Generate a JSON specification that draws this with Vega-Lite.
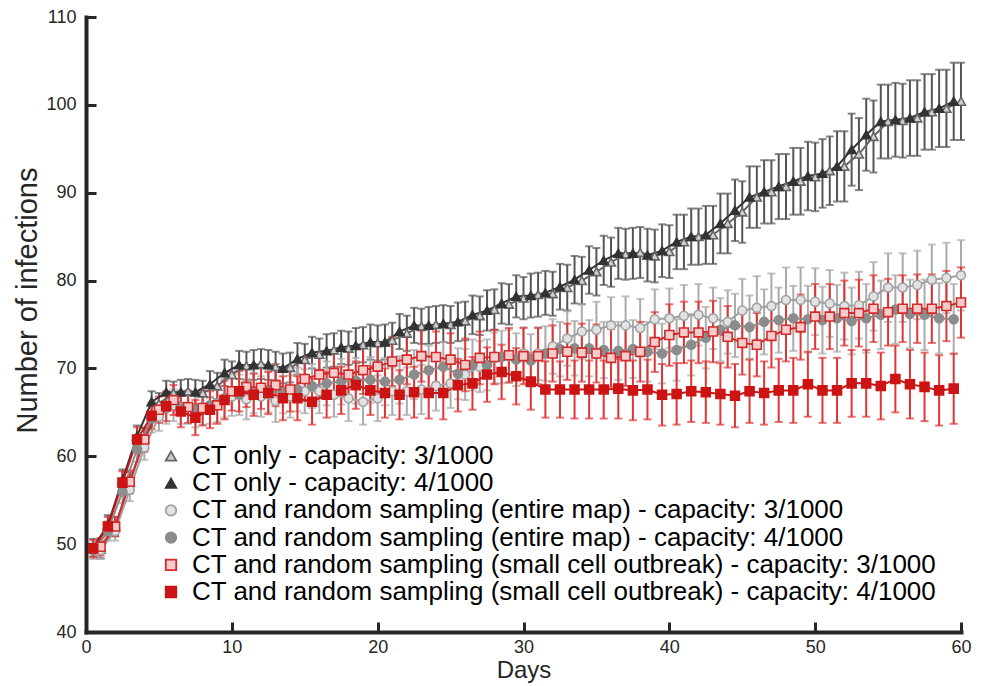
{
"$schema": "https://vega.github.io/schema/vega-lite/v6.json",
"width": 875, "height": 615,
"autosize": {"type": "none"},
"padding": {"left": 86, "top": 17, "right": 20, "bottom": 54},
"background": "white",
"config": {"view": {"stroke": null}, "font": "Liberation Sans",
  "legend": {"orient": "none", "legendX": 72, "legendY": 426, "title": null, "labelFontSize": 26, "labelColor": "#000000", "labelLimit": 1200, "symbolSize": 110, "symbolStrokeWidth": 1.8, "rowPadding": 1.2, "labelOffset": 8}},
"data": {"values": [
{"s":"A","d":1,"v":49.4,"e":1.0},{"s":"A","d":2,"v":52.0,"e":1.1},{"s":"A","d":3,"v":57.0,"e":1.2},{"s":"A","d":4,"v":62.0,"e":1.2},{"s":"A","d":5,"v":66.0,"e":1.2},{"s":"A","d":6,"v":67.2,"e":1.3},{"s":"A","d":7,"v":67.4,"e":1.4},{"s":"A","d":8,"v":67.2,"e":1.4},{"s":"A","d":9,"v":68.0,"e":1.5},{"s":"A","d":10,"v":69.3,"e":1.5},
{"s":"A","d":11,"v":70.3,"e":1.6},{"s":"A","d":12,"v":70.5,"e":1.7},{"s":"A","d":13,"v":70.2,"e":1.7},{"s":"A","d":14,"v":70.1,"e":1.7},{"s":"A","d":15,"v":71.0,"e":1.8},{"s":"A","d":16,"v":71.6,"e":1.8},{"s":"A","d":17,"v":72.1,"e":1.9},{"s":"A","d":18,"v":72.3,"e":1.9},{"s":"A","d":19,"v":72.7,"e":2.0},{"s":"A","d":20,"v":72.9,"e":2.0},
{"s":"A","d":21,"v":73.2,"e":2.0},{"s":"A","d":22,"v":74.0,"e":2.0},{"s":"A","d":23,"v":74.8,"e":2.0},{"s":"A","d":24,"v":75.0,"e":2.1},{"s":"A","d":25,"v":75.0,"e":2.1},{"s":"A","d":26,"v":75.4,"e":2.2},{"s":"A","d":27,"v":76.0,"e":2.2},{"s":"A","d":28,"v":76.7,"e":2.3},{"s":"A","d":29,"v":77.3,"e":2.3},{"s":"A","d":30,"v":78.0,"e":2.4},
{"s":"A","d":31,"v":78.4,"e":2.5},{"s":"A","d":32,"v":78.5,"e":2.5},{"s":"A","d":33,"v":79.2,"e":2.6},{"s":"A","d":34,"v":80.0,"e":2.7},{"s":"A","d":35,"v":81.0,"e":2.7},{"s":"A","d":36,"v":82.1,"e":2.8},{"s":"A","d":37,"v":83.0,"e":2.9},{"s":"A","d":38,"v":83.2,"e":2.9},{"s":"A","d":39,"v":82.8,"e":3.0},{"s":"A","d":40,"v":83.3,"e":3.0},
{"s":"A","d":41,"v":84.4,"e":3.1},{"s":"A","d":42,"v":85.0,"e":3.2},{"s":"A","d":43,"v":85.2,"e":3.3},{"s":"A","d":44,"v":86.5,"e":3.4},{"s":"A","d":45,"v":87.8,"e":3.5},{"s":"A","d":46,"v":89.5,"e":3.5},{"s":"A","d":47,"v":90.1,"e":3.6},{"s":"A","d":48,"v":90.7,"e":3.7},{"s":"A","d":49,"v":91.3,"e":3.8},{"s":"A","d":50,"v":91.8,"e":3.9},
{"s":"A","d":51,"v":92.5,"e":3.9},{"s":"A","d":52,"v":93.0,"e":4.0},{"s":"A","d":53,"v":94.4,"e":4.1},{"s":"A","d":54,"v":96.4,"e":4.1},{"s":"A","d":55,"v":98.1,"e":4.2},{"s":"A","d":56,"v":98.2,"e":4.2},{"s":"A","d":57,"v":98.5,"e":4.3},{"s":"A","d":58,"v":99.2,"e":4.3},{"s":"A","d":59,"v":99.6,"e":4.4},{"s":"A","d":60,"v":100.4,"e":4.4},
{"s":"B","d":0.5,"v":49.6,"e":1.0},{"s":"B","d":1.5,"v":52.2,"e":1.1},{"s":"B","d":2.5,"v":57.3,"e":1.2},{"s":"B","d":3.5,"v":62.3,"e":1.2},{"s":"B","d":4.5,"v":66.2,"e":1.2},{"s":"B","d":5.5,"v":67.3,"e":1.3},{"s":"B","d":6.5,"v":67.3,"e":1.4},{"s":"B","d":7.5,"v":67.3,"e":1.4},{"s":"B","d":8.5,"v":68.2,"e":1.5},{"s":"B","d":9.5,"v":69.5,"e":1.5},
{"s":"B","d":10.5,"v":70.4,"e":1.6},{"s":"B","d":11.5,"v":70.4,"e":1.7},{"s":"B","d":12.5,"v":70.4,"e":1.7},{"s":"B","d":13.5,"v":70.0,"e":1.7},{"s":"B","d":14.5,"v":71.1,"e":1.8},{"s":"B","d":15.5,"v":71.8,"e":1.8},{"s":"B","d":16.5,"v":72.0,"e":1.9},{"s":"B","d":17.5,"v":72.4,"e":1.9},{"s":"B","d":18.5,"v":72.6,"e":2.0},{"s":"B","d":19.5,"v":73.0,"e":2.0},
{"s":"B","d":20.5,"v":73.0,"e":2.0},{"s":"B","d":21.5,"v":74.2,"e":2.0},{"s":"B","d":22.5,"v":74.9,"e":2.0},{"s":"B","d":23.5,"v":74.9,"e":2.1},{"s":"B","d":24.5,"v":75.1,"e":2.1},{"s":"B","d":25.5,"v":75.3,"e":2.2},{"s":"B","d":26.5,"v":76.1,"e":2.2},{"s":"B","d":27.5,"v":76.6,"e":2.3},{"s":"B","d":28.5,"v":77.4,"e":2.3},{"s":"B","d":29.5,"v":78.2,"e":2.4},
{"s":"B","d":30.5,"v":78.3,"e":2.5},{"s":"B","d":31.5,"v":78.6,"e":2.5},{"s":"B","d":32.5,"v":79.3,"e":2.6},{"s":"B","d":33.5,"v":80.1,"e":2.7},{"s":"B","d":34.5,"v":81.2,"e":2.7},{"s":"B","d":35.5,"v":82.3,"e":2.8},{"s":"B","d":36.5,"v":83.1,"e":2.9},{"s":"B","d":37.5,"v":83.1,"e":2.9},{"s":"B","d":38.5,"v":82.9,"e":3.0},{"s":"B","d":39.5,"v":83.4,"e":3.0},
{"s":"B","d":40.5,"v":84.4,"e":3.1},{"s":"B","d":41.5,"v":85.0,"e":3.2},{"s":"B","d":42.5,"v":85.2,"e":3.3},{"s":"B","d":43.5,"v":86.5,"e":3.4},{"s":"B","d":44.5,"v":88.0,"e":3.5},{"s":"B","d":45.5,"v":89.5,"e":3.5},{"s":"B","d":46.5,"v":90.1,"e":3.6},{"s":"B","d":47.5,"v":90.7,"e":3.7},{"s":"B","d":48.5,"v":91.3,"e":3.8},{"s":"B","d":49.5,"v":91.9,"e":3.9},
{"s":"B","d":50.5,"v":92.2,"e":3.9},{"s":"B","d":51.5,"v":93.0,"e":4.0},{"s":"B","d":52.5,"v":94.9,"e":4.1},{"s":"B","d":53.5,"v":96.6,"e":4.1},{"s":"B","d":54.5,"v":98.1,"e":4.2},{"s":"B","d":55.5,"v":98.3,"e":4.2},{"s":"B","d":56.5,"v":98.5,"e":4.3},{"s":"B","d":57.5,"v":99.2,"e":4.3},{"s":"B","d":58.5,"v":99.6,"e":4.4},{"s":"B","d":59.5,"v":100.4,"e":4.4},
{"s":"C","d":1,"v":49.3,"e":1.0},{"s":"C","d":2,"v":51.5,"e":1.1},{"s":"C","d":3,"v":56.2,"e":1.3},{"s":"C","d":4,"v":61.0,"e":1.4},{"s":"C","d":5,"v":64.5,"e":1.6},{"s":"C","d":6,"v":65.8,"e":1.8},{"s":"C","d":7,"v":65.6,"e":1.9},{"s":"C","d":8,"v":65.6,"e":2.0},{"s":"C","d":9,"v":66.0,"e":2.1},{"s":"C","d":10,"v":66.8,"e":2.2},
{"s":"C","d":11,"v":66.5,"e":2.3},{"s":"C","d":12,"v":66.8,"e":2.3},{"s":"C","d":13,"v":66.3,"e":2.4},{"s":"C","d":14,"v":66.8,"e":2.4},{"s":"C","d":15,"v":67.4,"e":2.5},{"s":"C","d":16,"v":67.4,"e":2.5},{"s":"C","d":17,"v":67.0,"e":2.5},{"s":"C","d":18,"v":66.6,"e":2.6},{"s":"C","d":19,"v":66.2,"e":2.6},{"s":"C","d":20,"v":66.6,"e":2.6},
{"s":"C","d":21,"v":67.4,"e":2.7},{"s":"C","d":22,"v":67.4,"e":2.7},{"s":"C","d":23,"v":67.6,"e":2.8},{"s":"C","d":24,"v":68.0,"e":2.8},{"s":"C","d":25,"v":68.3,"e":2.8},{"s":"C","d":26,"v":69.3,"e":2.9},{"s":"C","d":27,"v":70.2,"e":2.9},{"s":"C","d":28,"v":71.2,"e":2.9},{"s":"C","d":29,"v":71.4,"e":3.0},{"s":"C","d":30,"v":71.7,"e":3.0},
{"s":"C","d":31,"v":71.7,"e":3.0},{"s":"C","d":32,"v":72.5,"e":3.1},{"s":"C","d":33,"v":73.4,"e":3.1},{"s":"C","d":34,"v":74.2,"e":3.1},{"s":"C","d":35,"v":74.4,"e":3.2},{"s":"C","d":36,"v":74.9,"e":3.2},{"s":"C","d":37,"v":74.9,"e":3.3},{"s":"C","d":38,"v":74.6,"e":3.3},{"s":"C","d":39,"v":75.6,"e":3.4},{"s":"C","d":40,"v":75.7,"e":3.4},
{"s":"C","d":41,"v":76.0,"e":3.5},{"s":"C","d":42,"v":76.1,"e":3.5},{"s":"C","d":43,"v":75.7,"e":3.5},{"s":"C","d":44,"v":75.3,"e":3.6},{"s":"C","d":45,"v":76.6,"e":3.6},{"s":"C","d":46,"v":76.9,"e":3.6},{"s":"C","d":47,"v":77.1,"e":3.7},{"s":"C","d":48,"v":77.8,"e":3.7},{"s":"C","d":49,"v":77.8,"e":3.7},{"s":"C","d":50,"v":77.6,"e":3.8},
{"s":"C","d":51,"v":77.4,"e":3.8},{"s":"C","d":52,"v":77.1,"e":3.8},{"s":"C","d":53,"v":77.2,"e":3.8},{"s":"C","d":54,"v":78.2,"e":3.9},{"s":"C","d":55,"v":79.2,"e":3.9},{"s":"C","d":56,"v":79.2,"e":3.9},{"s":"C","d":57,"v":79.5,"e":3.9},{"s":"C","d":58,"v":80.1,"e":4.0},{"s":"C","d":59,"v":80.3,"e":4.0},{"s":"C","d":60,"v":80.6,"e":4.0},
{"s":"D","d":0.5,"v":49.3,"e":1.0},{"s":"D","d":1.5,"v":51.5,"e":1.1},{"s":"D","d":2.5,"v":56.0,"e":1.3},{"s":"D","d":3.5,"v":60.8,"e":1.4},{"s":"D","d":4.5,"v":64.3,"e":1.6},{"s":"D","d":5.5,"v":65.5,"e":1.8},{"s":"D","d":6.5,"v":65.6,"e":1.9},{"s":"D","d":7.5,"v":65.3,"e":2.0},{"s":"D","d":8.5,"v":65.8,"e":2.1},{"s":"D","d":9.5,"v":66.6,"e":2.2},
{"s":"D","d":10.5,"v":67.0,"e":2.3},{"s":"D","d":11.5,"v":67.2,"e":2.3},{"s":"D","d":12.5,"v":67.4,"e":2.4},{"s":"D","d":13.5,"v":67.3,"e":2.4},{"s":"D","d":14.5,"v":67.6,"e":2.5},{"s":"D","d":15.5,"v":68.0,"e":2.5},{"s":"D","d":16.5,"v":68.3,"e":2.5},{"s":"D","d":17.5,"v":68.5,"e":2.6},{"s":"D","d":18.5,"v":68.6,"e":2.6},{"s":"D","d":19.5,"v":68.7,"e":2.6},
{"s":"D","d":20.5,"v":68.5,"e":2.7},{"s":"D","d":21.5,"v":68.7,"e":2.7},{"s":"D","d":22.5,"v":69.3,"e":2.8},{"s":"D","d":23.5,"v":69.8,"e":2.8},{"s":"D","d":24.5,"v":70.2,"e":2.8},{"s":"D","d":25.5,"v":69.4,"e":2.9},{"s":"D","d":26.5,"v":70.4,"e":2.9},{"s":"D","d":27.5,"v":70.4,"e":2.9},{"s":"D","d":28.5,"v":71.3,"e":3.0},{"s":"D","d":29.5,"v":71.0,"e":3.0},
{"s":"D","d":30.5,"v":70.9,"e":3.0},{"s":"D","d":31.5,"v":71.7,"e":3.1},{"s":"D","d":32.5,"v":72.2,"e":3.1},{"s":"D","d":33.5,"v":72.3,"e":3.1},{"s":"D","d":34.5,"v":72.3,"e":3.2},{"s":"D","d":35.5,"v":72.1,"e":3.2},{"s":"D","d":36.5,"v":72.0,"e":3.3},{"s":"D","d":37.5,"v":72.2,"e":3.3},{"s":"D","d":38.5,"v":71.9,"e":3.4},{"s":"D","d":39.5,"v":71.7,"e":3.4},
{"s":"D","d":40.5,"v":72.1,"e":3.5},{"s":"D","d":41.5,"v":72.7,"e":3.5},{"s":"D","d":42.5,"v":73.5,"e":3.5},{"s":"D","d":43.5,"v":74.4,"e":3.6},{"s":"D","d":44.5,"v":74.9,"e":3.6},{"s":"D","d":45.5,"v":74.7,"e":3.6},{"s":"D","d":46.5,"v":75.3,"e":3.7},{"s":"D","d":47.5,"v":75.5,"e":3.7},{"s":"D","d":48.5,"v":75.7,"e":3.7},{"s":"D","d":49.5,"v":75.6,"e":3.8},
{"s":"D","d":50.5,"v":75.5,"e":3.8},{"s":"D","d":51.5,"v":75.7,"e":3.8},{"s":"D","d":52.5,"v":75.4,"e":3.8},{"s":"D","d":53.5,"v":75.7,"e":3.9},{"s":"D","d":54.5,"v":76.1,"e":3.9},{"s":"D","d":55.5,"v":76.7,"e":3.9},{"s":"D","d":56.5,"v":76.2,"e":3.9},{"s":"D","d":57.5,"v":76.1,"e":4.0},{"s":"D","d":58.5,"v":75.7,"e":4.0},{"s":"D","d":59.5,"v":75.6,"e":4.0},
{"s":"E","d":1,"v":49.7,"e":1.0},{"s":"E","d":2,"v":52.0,"e":1.1},{"s":"E","d":3,"v":57.1,"e":1.3},{"s":"E","d":4,"v":61.9,"e":1.4},{"s":"E","d":5,"v":65.3,"e":1.5},{"s":"E","d":6,"v":66.4,"e":1.7},{"s":"E","d":7,"v":65.6,"e":1.8},{"s":"E","d":8,"v":65.5,"e":2.0},{"s":"E","d":9,"v":65.8,"e":2.1},{"s":"E","d":10,"v":67.4,"e":2.2},
{"s":"E","d":11,"v":67.9,"e":2.3},{"s":"E","d":12,"v":67.8,"e":2.4},{"s":"E","d":13,"v":68.1,"e":2.4},{"s":"E","d":14,"v":67.6,"e":2.5},{"s":"E","d":15,"v":68.8,"e":2.5},{"s":"E","d":16,"v":69.3,"e":2.6},{"s":"E","d":17,"v":69.5,"e":2.6},{"s":"E","d":18,"v":69.3,"e":2.7},{"s":"E","d":19,"v":69.8,"e":2.7},{"s":"E","d":20,"v":70.2,"e":2.8},
{"s":"E","d":21,"v":70.8,"e":2.8},{"s":"E","d":22,"v":71.0,"e":2.8},{"s":"E","d":23,"v":71.4,"e":2.9},{"s":"E","d":24,"v":71.3,"e":2.9},{"s":"E","d":25,"v":71.0,"e":3.0},{"s":"E","d":26,"v":70.4,"e":3.0},{"s":"E","d":27,"v":71.2,"e":3.0},{"s":"E","d":28,"v":71.3,"e":3.1},{"s":"E","d":29,"v":71.5,"e":3.1},{"s":"E","d":30,"v":71.4,"e":3.2},
{"s":"E","d":31,"v":71.4,"e":3.2},{"s":"E","d":32,"v":71.7,"e":3.2},{"s":"E","d":33,"v":71.9,"e":3.2},{"s":"E","d":34,"v":71.8,"e":3.3},{"s":"E","d":35,"v":71.7,"e":3.3},{"s":"E","d":36,"v":71.2,"e":3.3},{"s":"E","d":37,"v":71.4,"e":3.4},{"s":"E","d":38,"v":71.9,"e":3.4},{"s":"E","d":39,"v":73.0,"e":3.4},{"s":"E","d":40,"v":73.8,"e":3.5},
{"s":"E","d":41,"v":74.1,"e":3.5},{"s":"E","d":42,"v":74.1,"e":3.5},{"s":"E","d":43,"v":74.2,"e":3.5},{"s":"E","d":44,"v":73.6,"e":3.5},{"s":"E","d":45,"v":72.9,"e":3.6},{"s":"E","d":46,"v":72.7,"e":3.6},{"s":"E","d":47,"v":73.7,"e":3.6},{"s":"E","d":48,"v":74.4,"e":3.6},{"s":"E","d":49,"v":74.7,"e":3.7},{"s":"E","d":50,"v":75.9,"e":3.7},
{"s":"E","d":51,"v":75.9,"e":3.7},{"s":"E","d":52,"v":76.3,"e":3.7},{"s":"E","d":53,"v":76.3,"e":3.8},{"s":"E","d":54,"v":76.8,"e":3.8},{"s":"E","d":55,"v":76.4,"e":3.8},{"s":"E","d":56,"v":76.8,"e":3.8},{"s":"E","d":57,"v":76.8,"e":3.9},{"s":"E","d":58,"v":76.8,"e":3.9},{"s":"E","d":59,"v":77.1,"e":4.0},{"s":"E","d":60,"v":77.5,"e":4.0},
{"s":"F","d":0.5,"v":49.5,"e":1.0},{"s":"F","d":1.5,"v":52.0,"e":1.1},{"s":"F","d":2.5,"v":57.0,"e":1.3},{"s":"F","d":3.5,"v":61.9,"e":1.4},{"s":"F","d":4.5,"v":64.6,"e":1.5},{"s":"F","d":5.5,"v":65.7,"e":1.7},{"s":"F","d":6.5,"v":65.1,"e":1.8},{"s":"F","d":7.5,"v":64.4,"e":2.0},{"s":"F","d":8.5,"v":65.3,"e":2.1},{"s":"F","d":9.5,"v":66.4,"e":2.2},
{"s":"F","d":10.5,"v":67.4,"e":2.3},{"s":"F","d":11.5,"v":67.0,"e":2.4},{"s":"F","d":12.5,"v":67.2,"e":2.4},{"s":"F","d":13.5,"v":66.6,"e":2.5},{"s":"F","d":14.5,"v":66.6,"e":2.5},{"s":"F","d":15.5,"v":66.2,"e":2.6},{"s":"F","d":16.5,"v":67.0,"e":2.6},{"s":"F","d":17.5,"v":67.5,"e":2.7},{"s":"F","d":18.5,"v":68.1,"e":2.7},{"s":"F","d":19.5,"v":67.5,"e":2.8},
{"s":"F","d":20.5,"v":67.2,"e":2.8},{"s":"F","d":21.5,"v":67.0,"e":2.8},{"s":"F","d":22.5,"v":67.3,"e":2.9},{"s":"F","d":23.5,"v":67.2,"e":2.9},{"s":"F","d":24.5,"v":67.2,"e":3.0},{"s":"F","d":25.5,"v":68.1,"e":3.0},{"s":"F","d":26.5,"v":68.3,"e":3.0},{"s":"F","d":27.5,"v":69.3,"e":3.1},{"s":"F","d":28.5,"v":69.6,"e":3.1},{"s":"F","d":29.5,"v":69.1,"e":3.2},
{"s":"F","d":30.5,"v":68.5,"e":3.2},{"s":"F","d":31.5,"v":67.6,"e":3.2},{"s":"F","d":32.5,"v":67.6,"e":3.2},{"s":"F","d":33.5,"v":67.6,"e":3.3},{"s":"F","d":34.5,"v":67.6,"e":3.3},{"s":"F","d":35.5,"v":67.6,"e":3.3},{"s":"F","d":36.5,"v":67.7,"e":3.4},{"s":"F","d":37.5,"v":67.5,"e":3.4},{"s":"F","d":38.5,"v":67.6,"e":3.4},{"s":"F","d":39.5,"v":67.0,"e":3.5},
{"s":"F","d":40.5,"v":67.1,"e":3.5},{"s":"F","d":41.5,"v":67.4,"e":3.5},{"s":"F","d":42.5,"v":67.3,"e":3.5},{"s":"F","d":43.5,"v":67.1,"e":3.5},{"s":"F","d":44.5,"v":66.9,"e":3.6},{"s":"F","d":45.5,"v":67.4,"e":3.6},{"s":"F","d":46.5,"v":67.2,"e":3.6},{"s":"F","d":47.5,"v":67.5,"e":3.6},{"s":"F","d":48.5,"v":67.5,"e":3.7},{"s":"F","d":49.5,"v":68.2,"e":3.7},
{"s":"F","d":50.5,"v":67.5,"e":3.7},{"s":"F","d":51.5,"v":67.5,"e":3.7},{"s":"F","d":52.5,"v":68.3,"e":3.8},{"s":"F","d":53.5,"v":68.3,"e":3.8},{"s":"F","d":54.5,"v":68.0,"e":3.8},{"s":"F","d":55.5,"v":68.8,"e":3.8},{"s":"F","d":56.5,"v":68.2,"e":3.9},{"s":"F","d":57.5,"v":67.9,"e":3.9},{"s":"F","d":58.5,"v":67.5,"e":4.0},{"s":"F","d":59.5,"v":67.7,"e":4.0}
]},
"encoding": {
  "x": {"field": "d", "type": "quantitative",
    "scale": {"domain": [0, 60], "nice": false, "zero": false},
    "axis": {"title": "Days", "values": [0,10,20,30,40,50,60], "grid": false,
      "tickSize": -10, "tickWidth": 3, "tickColor": "#262626",
      "domainWidth": 4, "domainColor": "#262626", "domainCap": "square",
      "labelFontSize": 18, "labelColor": "#262626", "labelPadding": 16, "labelFlush": false, "labelOverlap": false,
      "titleFontSize": 24, "titleFontWeight": "normal", "titleColor": "#262626", "titlePadding": 2}},
  "y": {"field": "v", "type": "quantitative",
    "scale": {"domain": [40, 110], "nice": false, "zero": false},
    "axis": {"title": "Number of infections", "values": [40,50,60,70,80,90,100,110], "grid": false,
      "tickSize": -10, "tickWidth": 3, "tickColor": "#262626",
      "domainWidth": 4, "domainColor": "#262626", "domainCap": "square",
      "labelFontSize": 18, "labelColor": "#262626", "labelPadding": 20, "labelFlush": false, "labelOverlap": false,
      "titleFontSize": 29, "titleFontWeight": "normal", "titleColor": "#262626",
      "titleX": -59, "titleY": 283, "titleBaseline": "middle", "titleAlign": "center", "titleAngle": 270}}
},
"layer": [
  {"transform": [{"filter": {"field": "s", "oneOf": ["A", "B"]}}],
   "mark": {"type": "errorbar", "ticks": true, "size": 8, "thickness": 2, "color": "#555555"},
   "encoding": {"yError": {"field": "e"}}},
  {"transform": [{"filter": {"field": "s", "oneOf": ["C", "D"]}}],
   "mark": {"type": "errorbar", "ticks": true, "size": 8, "thickness": 2, "color": "#aaaaaa"},
   "encoding": {"yError": {"field": "e"}}},
  {"transform": [{"filter": {"field": "s", "oneOf": ["E", "F"]}}],
   "mark": {"type": "errorbar", "ticks": true, "size": 8, "thickness": 2, "color": "#e03535"},
   "encoding": {"yError": {"field": "e"}}},
  {"mark": {"type": "line", "strokeWidth": 2},
   "encoding": {"stroke": {"field": "s", "type": "nominal",
      "scale": {"domain": ["A","B","C","D","E","F"], "range": ["#666666","#333333","#a0a0a0","#8c8c8c","#d42a2a","#cc1414"]},
      "legend": {"labelExpr": "datum.label=='A'?'CT only - capacity: 3/1000':datum.label=='B'?'CT only - capacity: 4/1000':datum.label=='C'?'CT and random sampling (entire map) - capacity: 3/1000':datum.label=='D'?'CT and random sampling (entire map) - capacity: 4/1000':datum.label=='E'?'CT and random sampling (small cell outbreak) - capacity: 3/1000':'CT and random sampling (small cell outbreak) - capacity: 4/1000'"}}}},
  {"mark": {"type": "point", "size": 80, "strokeWidth": 1.6, "opacity": 1, "filled": true},
   "encoding": {
     "shape": {"field": "s", "type": "nominal",
       "scale": {"domain": ["A","B","C","D","E","F"], "range": ["triangle-up","triangle-up","circle","circle","square","square"]},
       "legend": {"labelExpr": "datum.label=='A'?'CT only - capacity: 3/1000':datum.label=='B'?'CT only - capacity: 4/1000':datum.label=='C'?'CT and random sampling (entire map) - capacity: 3/1000':datum.label=='D'?'CT and random sampling (entire map) - capacity: 4/1000':datum.label=='E'?'CT and random sampling (small cell outbreak) - capacity: 3/1000':'CT and random sampling (small cell outbreak) - capacity: 4/1000'"}},
     "fill": {"field": "s", "type": "nominal",
       "scale": {"domain": ["A","B","C","D","E","F"], "range": ["#cfcfcf","#333333","#e2e2e2","#8c8c8c","#f5cccc","#cc1414"]},
       "legend": {"labelExpr": "datum.label=='A'?'CT only - capacity: 3/1000':datum.label=='B'?'CT only - capacity: 4/1000':datum.label=='C'?'CT and random sampling (entire map) - capacity: 3/1000':datum.label=='D'?'CT and random sampling (entire map) - capacity: 4/1000':datum.label=='E'?'CT and random sampling (small cell outbreak) - capacity: 3/1000':'CT and random sampling (small cell outbreak) - capacity: 4/1000'"}},
     "stroke": {"field": "s", "type": "nominal",
       "legend": {"labelExpr": "datum.label=='A'?'CT only - capacity: 3/1000':datum.label=='B'?'CT only - capacity: 4/1000':datum.label=='C'?'CT and random sampling (entire map) - capacity: 3/1000':datum.label=='D'?'CT and random sampling (entire map) - capacity: 4/1000':datum.label=='E'?'CT and random sampling (small cell outbreak) - capacity: 3/1000':'CT and random sampling (small cell outbreak) - capacity: 4/1000'"}}
   }}
]
}
